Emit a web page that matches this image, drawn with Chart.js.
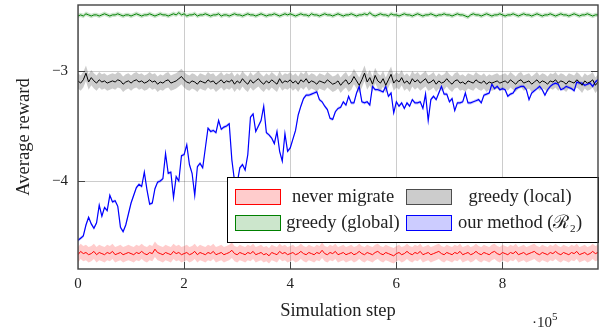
<!DOCTYPE html>
<html lang="en">
<head>
<meta charset="UTF-8">
<title>Average reward</title>
<script src="https://cdn.jsdelivr.net/npm/chart.js"></script>
<style>
  html, body { margin: 0; padding: 0; background: #fff; }
  #wrap { width: 600px; height: 330px; }
</style>
</head>
<body>
<div id="wrap"><canvas id="grafico" width="600" height="330"></canvas></div>
<script>
// one sample every 5000 simulation steps
const stepSize = 5000;
const xTicks = [0, 200000, 400000, 600000, 800000];
const yTicks = [-4, -3];
const labels = ["never migrate", "greedy (local)", "greedy (global)", "our method (ℛ₂)"];

const neverMigrate = [
  -4.67,-4.64,-4.66,-4.65,-4.67,-4.66,-4.64,-4.67,-4.65,-4.66,-4.67,-4.65,-4.66,-4.64,-4.67,-4.66,-4.65,-4.67,-4.66,-4.65,
  -4.66,-4.67,-4.65,-4.66,-4.64,-4.66,-4.67,-4.65,-4.66,-4.62,-4.65,-4.66,-4.67,-4.65,-4.66,-4.67,-4.64,-4.66,-4.65,-4.67,
  -4.66,-4.65,-4.67,-4.66,-4.64,-4.67,-4.65,-4.66,-4.67,-4.65,-4.66,-4.64,-4.67,-4.66,-4.65,-4.67,-4.66,-4.65,-4.63,-4.66,
  -4.67,-4.65,-4.66,-4.67,-4.65,-4.66,-4.64,-4.67,-4.66,-4.65,-4.67,-4.66,-4.68,-4.65,-4.66,-4.67,-4.64,-4.66,-4.65,-4.67,
  -4.66,-4.65,-4.67,-4.66,-4.64,-4.66,-4.67,-4.65,-4.66,-4.67,-4.65,-4.66,-4.63,-4.66,-4.67,-4.65,-4.66,-4.64,-4.67,-4.66,
  -4.65,-4.67,-4.66,-4.65,-4.67,-4.66,-4.64,-4.66,-4.67,-4.65,-4.66,-4.67,-4.65,-4.64,-4.66,-4.67,-4.65,-4.66,-4.67,-4.68,
  -4.66,-4.65,-4.67,-4.66,-4.64,-4.66,-4.67,-4.65,-4.66,-4.64,-4.67,-4.66,-4.65,-4.67,-4.66,-4.65,-4.64,-4.66,-4.67,-4.65,
  -4.66,-4.67,-4.65,-4.66,-4.64,-4.67,-4.66,-4.65,-4.67,-4.66,-4.64,-4.66,-4.67,-4.65,-4.66,-4.67,-4.65,-4.64,-4.66,-4.67,
  -4.65,-4.66,-4.67,-4.65,-4.66,-4.64,-4.67,-4.66,-4.65,-4.67,-4.66,-4.65,-4.64,-4.66,-4.67,-4.65,-4.66,-4.67,-4.65,-4.66,
  -4.64,-4.66,-4.67,-4.65,-4.66,-4.67,-4.65,-4.66,-4.64,-4.67,-4.66,-4.65,-4.67,-4.66,-4.64,-4.66,-4.65
];
const greedyLocal = [
  -3.09,-3.11,-3.08,-3.02,-3.10,-3.06,-3.09,-3.11,-3.08,-3.10,-3.09,-3.11,-3.10,-3.09,-3.10,-3.08,-3.09,-3.12,-3.10,-3.09,
  -3.11,-3.09,-3.08,-3.10,-3.09,-3.11,-3.10,-3.08,-3.10,-3.09,-3.12,-3.10,-3.11,-3.09,-3.08,-3.11,-3.10,-3.09,-3.07,-3.05,
  -3.08,-3.10,-3.11,-3.09,-3.10,-3.12,-3.09,-3.10,-3.11,-3.08,-3.10,-3.09,-3.12,-3.10,-3.08,-3.11,-3.09,-3.10,-3.08,-3.12,
  -3.09,-3.11,-3.07,-3.10,-3.12,-3.08,-3.11,-3.09,-3.07,-3.10,-3.12,-3.09,-3.11,-3.08,-3.10,-3.12,-3.07,-3.11,-3.09,-3.10,
  -3.08,-3.11,-3.09,-3.12,-3.08,-3.10,-3.07,-3.11,-3.09,-3.10,-3.12,-3.09,-3.10,-3.11,-3.08,-3.10,-3.12,-3.11,-3.09,-3.13,
  -3.10,-3.08,-3.12,-3.10,-3.05,-3.09,-3.13,-3.08,-3.02,-3.10,-3.06,-3.12,-3.04,-3.09,-3.11,-3.07,-3.13,-3.08,-3.03,-3.11,
  -3.08,-3.10,-3.06,-3.11,-3.09,-3.12,-3.07,-3.10,-3.08,-3.11,-3.09,-3.07,-3.11,-3.10,-3.08,-3.12,-3.09,-3.11,-3.10,-3.07,
  -3.10,-3.12,-3.09,-3.08,-3.11,-3.10,-3.12,-3.09,-3.10,-3.11,-3.08,-3.10,-3.11,-3.09,-3.12,-3.10,-3.11,-3.10,-3.09,-3.11,
  -3.10,-3.09,-3.11,-3.08,-3.10,-3.12,-3.09,-3.08,-3.11,-3.10,-3.09,-3.12,-3.10,-3.08,-3.11,-3.09,-3.10,-3.12,-3.09,-3.10,
  -3.08,-3.11,-3.09,-3.10,-3.12,-3.09,-3.10,-3.11,-3.08,-3.10,-3.13,-3.09,-3.11,-3.10,-3.08,-3.13,-3.10
];
const greedyGlobal = [
  -2.50,-2.49,-2.50,-2.48,-2.49,-2.50,-2.49,-2.49,-2.50,-2.49,-2.48,-2.49,-2.50,-2.49,-2.49,-2.48,-2.49,-2.50,-2.49,-2.49,
  -2.50,-2.49,-2.48,-2.49,-2.50,-2.49,-2.49,-2.48,-2.49,-2.50,-2.49,-2.48,-2.49,-2.49,-2.50,-2.49,-2.48,-2.49,-2.47,-2.49,
  -2.48,-2.50,-2.49,-2.49,-2.48,-2.50,-2.49,-2.49,-2.48,-2.49,-2.50,-2.49,-2.49,-2.48,-2.50,-2.49,-2.49,-2.50,-2.49,-2.48,
  -2.49,-2.49,-2.50,-2.49,-2.48,-2.49,-2.49,-2.50,-2.49,-2.48,-2.49,-2.50,-2.49,-2.49,-2.48,-2.49,-2.50,-2.49,-2.48,-2.49,
  -2.48,-2.49,-2.50,-2.49,-2.48,-2.49,-2.49,-2.50,-2.48,-2.49,-2.49,-2.50,-2.49,-2.48,-2.49,-2.49,-2.50,-2.49,-2.48,-2.49,
  -2.50,-2.49,-2.49,-2.48,-2.49,-2.50,-2.49,-2.49,-2.48,-2.49,-2.47,-2.49,-2.50,-2.49,-2.48,-2.49,-2.49,-2.50,-2.48,-2.49,
  -2.49,-2.50,-2.49,-2.48,-2.49,-2.49,-2.50,-2.49,-2.48,-2.49,-2.50,-2.49,-2.49,-2.48,-2.49,-2.50,-2.49,-2.49,-2.48,-2.49,
  -2.49,-2.50,-2.49,-2.48,-2.49,-2.49,-2.50,-2.51,-2.49,-2.48,-2.49,-2.49,-2.50,-2.49,-2.48,-2.49,-2.50,-2.49,-2.49,-2.48,
  -2.49,-2.50,-2.49,-2.49,-2.48,-2.49,-2.50,-2.49,-2.48,-2.49,-2.49,-2.50,-2.49,-2.48,-2.49,-2.50,-2.49,-2.49,-2.48,-2.49,
  -2.50,-2.49,-2.48,-2.49,-2.49,-2.50,-2.49,-2.48,-2.49,-2.50,-2.49,-2.49,-2.48,-2.49,-2.50,-2.49,-2.49
];
const ourMethod = [
  -4.54,-4.52,-4.50,-4.40,-4.33,-4.39,-4.43,-4.38,-4.22,-4.32,-4.24,-4.27,-4.13,-4.19,-4.18,-4.23,-4.42,-4.46,-4.40,-4.30,
  -4.20,-4.13,-4.06,-4.03,-4.05,-3.92,-4.08,-4.21,-4.20,-4.07,-4.01,-4.00,-3.98,-3.75,-3.93,-3.92,-4.15,-3.96,-4.00,-3.77,
  -3.76,-3.67,-3.85,-3.93,-4.13,-3.87,-3.84,-3.88,-3.70,-3.52,-3.55,-3.54,-3.56,-3.45,-3.53,-3.51,-3.50,-3.48,-3.81,-4.00,
  -4.02,-3.88,-3.85,-3.90,-3.76,-3.42,-3.39,-3.55,-3.50,-3.45,-3.32,-3.56,-3.58,-3.61,-3.66,-3.55,-3.73,-3.82,-3.57,-3.73,
  -3.70,-3.62,-3.54,-3.40,-3.32,-3.25,-3.22,-3.22,-3.21,-3.20,-3.19,-3.26,-3.28,-3.32,-3.35,-3.43,-3.44,-3.37,-3.34,-3.33,
  -3.28,-3.31,-3.23,-3.29,-3.29,-3.20,-3.14,-3.28,-3.29,-3.28,-3.31,-3.14,-3.17,-3.17,-3.18,-3.19,-3.14,-3.23,-3.20,-3.38,
  -3.28,-3.32,-3.29,-3.34,-3.29,-3.32,-3.26,-3.29,-3.29,-3.28,-3.34,-3.21,-3.45,-3.26,-3.23,-3.26,-3.20,-3.14,-3.21,-3.21,
  -3.28,-3.25,-3.36,-3.29,-3.29,-3.28,-3.20,-3.29,-3.29,-3.28,-3.27,-3.26,-3.29,-3.22,-3.21,-3.20,-3.12,-3.16,-3.14,-3.17,
  -3.16,-3.17,-3.23,-3.21,-3.20,-3.16,-3.15,-3.14,-3.14,-3.17,-3.26,-3.20,-3.18,-3.16,-3.14,-3.17,-3.22,-3.17,-3.14,-3.12,
  -3.11,-3.12,-3.17,-3.16,-3.14,-3.15,-3.16,-3.18,-3.10,-3.11,-3.11,-3.13,-3.12,-3.11,-3.14,-3.10,-3.08
];
// half width of the shaded band around each mean curve
const spreads = [0.07, 0.07, 0.02, 0.015];

const series = [neverMigrate, greedyLocal, greedyGlobal, ourMethod];
const lineColors = ["#ff0000", "#000000", "#008000", "#0000ff"];
const bandColors = ["rgba(255,0,0,0.2)", "rgba(0,0,0,0.2)", "rgba(0,128,0,0.2)", "rgba(0,0,255,0.2)"];
const swatchFill = ["#ffcccc", "#cccccc", "#cce6cc", "#ccccff"];
const swatchLine = ["#ff0000", "#4d4d4d", "#008000", "#0000ff"];

const serif = "'Liberation Serif', 'DejaVu Serif', serif";
const textColor = "#222";

function puntos(vals, shift) {
  return vals.map((v, i) => ({ x: i * stepSize, y: v + shift }));
}

const datasets = [];
series.forEach((vals, k) => {
  datasets.push({ data: puntos(vals, -spreads[k]), borderWidth: 0, pointRadius: 0, fill: false, order: 2 });
  datasets.push({ data: puntos(vals, spreads[k]), borderWidth: 0, pointRadius: 0, fill: "-1", backgroundColor: bandColors[k], order: 2 });
});
series.forEach((vals, k) => {
  datasets.push({ label: labels[k], data: puntos(vals, 0), borderColor: lineColors[k], borderWidth: k === 3 ? 1.2 : 1, pointRadius: 0, fill: false, order: 1 });
});

// frame, inside tick marks, the 10^5 multiplier and the legend box
const extras = {
  id: "extras",
  afterDraw(chart) {
    const ctx = chart.ctx;
    const a = chart.chartArea;
    const sx = chart.scales.x, sy = chart.scales.y;
    ctx.save();
    ctx.strokeStyle = "#444";
    ctx.lineWidth = 1;
    ctx.beginPath();
    xTicks.forEach(v => {
      if (v === 0) return;
      const px = Math.round(sx.getPixelForValue(v)) + 0.5;
      ctx.moveTo(px, a.bottom); ctx.lineTo(px, a.bottom - 7);
      ctx.moveTo(px, a.top); ctx.lineTo(px, a.top + 7);
    });
    yTicks.forEach(v => {
      const py = Math.round(sy.getPixelForValue(v)) + 0.5;
      ctx.moveTo(a.left, py); ctx.lineTo(a.left + 7, py);
      ctx.moveTo(a.right, py); ctx.lineTo(a.right - 7, py);
    });
    ctx.stroke();

    // legend
    const lx = 227, ly = 177, lw = 371, lh = 65;
    ctx.fillStyle = "#fff";
    ctx.fillRect(lx, ly, lw, lh);
    ctx.strokeStyle = "#000";
    ctx.lineWidth = 1;
    ctx.strokeRect(lx + 0.5, ly + 0.5, lw, lh);
    ctx.font = "18.5px " + serif;
    ctx.textAlign = "center";
    ctx.textBaseline = "middle";
    const colX = [235, 406];
    const textX = [343, 520];
    const rowY = [197, 223];
    labels.forEach((lab, k) => {
      const c = k % 2, r = Math.floor(k / 2);
      ctx.fillStyle = swatchFill[k];
      ctx.fillRect(colX[c], rowY[r] - 8, 46, 16);
      ctx.strokeStyle = swatchLine[k];
      ctx.strokeRect(colX[c] + 0.5, rowY[r] - 7.5, 45, 15);
      ctx.fillStyle = textColor;
      ctx.fillText(lab, textX[c], rowY[r]);
    });

    // frame
    ctx.strokeStyle = "#444";
    ctx.lineWidth = 1.4;
    ctx.strokeRect(a.left, a.top, a.right - a.left, a.bottom - a.top);

    // multiplier
    ctx.fillStyle = textColor;
    ctx.textAlign = "left";
    ctx.textBaseline = "alphabetic";
    ctx.font = "15px " + serif;
    ctx.fillText("·10", 532, 327);
    ctx.font = "11px " + serif;
    ctx.fillText("5", 552, 320);
    ctx.restore();
  }
};

new Chart(document.getElementById("grafico"), {
  type: "line",
  data: { datasets: datasets },
  plugins: [extras],
  options: {
    responsive: false,
    animation: false,
    layout: { padding: { top: 5, right: 2, left: 0, bottom: 0 } },
    plugins: { legend: { display: false }, tooltip: { enabled: false } },
    elements: { line: { tension: 0 } },
    scales: {
      x: {
        type: "linear",
        min: 0,
        max: 980000,
        afterBuildTicks: s => { s.ticks = xTicks.map(v => ({ value: v })); },
        afterFit: s => { s.height = 61; s.paddingLeft = 0; s.paddingRight = 0; },
        grid: { color: "rgba(0,0,0,0.2)", drawTicks: false },
        border: { display: false },
        ticks: { padding: 6, color: textColor, maxRotation: 0, font: { family: serif, size: 15 }, callback: v => String(v / 100000) },
        title: { display: true, text: "Simulation step", color: textColor, padding: { top: 0, bottom: 8 }, font: { family: serif, size: 18.5 } }
      },
      y: {
        type: "linear",
        min: -4.8,
        max: -2.4,
        afterBuildTicks: s => { s.ticks = yTicks.map(v => ({ value: v })); },
        afterFit: s => { s.width = 78; s.paddingTop = 0; s.paddingBottom = 0; },
        grid: { color: "rgba(0,0,0,0.2)", drawTicks: false },
        border: { display: false },
        ticks: { padding: 10, color: textColor, font: { family: serif, size: 15 }, callback: v => "\u2212" + Math.abs(v) },
        title: { display: true, text: "Average reward", color: textColor, padding: { top: 13, bottom: 0 }, font: { family: serif, size: 18.5 } }
      }
    }
  }
});
</script>
</body>
</html>
